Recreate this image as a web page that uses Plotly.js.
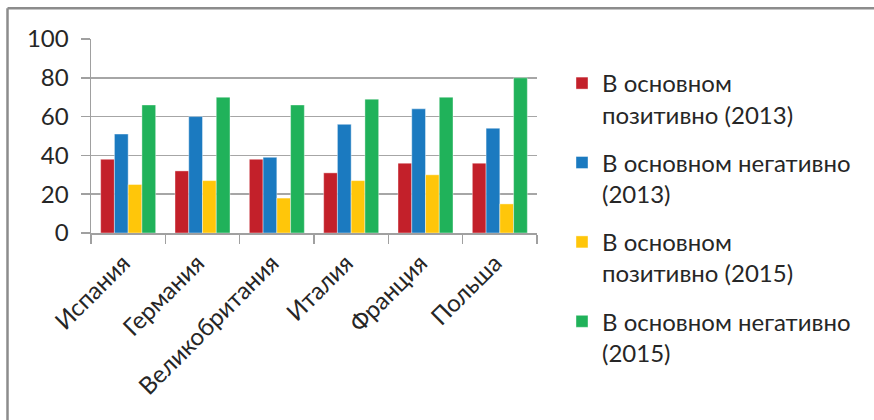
<!DOCTYPE html>
<html>
<head>
<meta charset="utf-8">
<script src="https://cdn.plot.ly/plotly-3.0.1.min.js"></script>
<style>
html,body{margin:0;padding:0;background:#fff;}
#chart{width:874px;height:420px;}
</style>
</head>
<body>
<div id="chart"></div>
<script>
var countries = ["Испания", "Германия", "Великобритания", "Италия", "Франция", "Польша"];
var seriesNames = [
  "В основном<br>позитивно (2013)",
  "В основном негативно<br>(2013)",
  "В основном<br>позитивно (2015)",
  "В основном негативно<br>(2015)"
];
var positive2013 = [38, 32, 38, 31, 36, 36];
var negative2013 = [51, 60, 39, 56, 64, 54];
var positive2015 = [25, 27, 18, 27, 30, 15];
var negative2015 = [66, 70, 66, 69, 70, 80];
var yTicks = [0, 20, 40, 60, 80, 100];

var colors = ["#C3202A", "#1B7AC0", "#FFC60A", "#20B25A"];
var values = [positive2013, negative2013, positive2015, negative2015];

var FONT = "Lato, 'Noto Sans', 'Open Sans', sans-serif";

var traces = values.map(function (v, i) {
  return {
    type: "bar",
    x: countries,
    y: v,
    name: seriesNames[i],
    legendgroup: "g" + i,
    marker: { color: colors[i], line: { color: "rgba(255,255,255,0.5)", width: 0.8 } },
    hoverinfo: "skip"
  };
});

var L = 91, R = 337, T = 39, B = 187;
var W = 874, H = 420;
var pw = W - L - R, ph = H - T - B;
function px2x(p) { return (p - L) / pw; }
function py2y(p) { return (H - B - p) / ph; }

var layout = {
  width: W,
  height: H,
  margin: { l: L, r: R, t: T, b: B, pad: 0 },
  paper_bgcolor: "#ffffff",
  plot_bgcolor: "#ffffff",
  font: { family: FONT, size: 22, color: "#262626" },
  barmode: "group",
  bargap: 0.26,
  bargroupgap: 0,
  showlegend: true,
  legend: {
    x: px2x(562), xanchor: "left",
    y: py2y(61), yanchor: "top",
    font: { family: FONT, size: 24, color: "#262626" },
    tracegroupgap: 14,
    valign: "top",
    maxheight: 400,
    bgcolor: "rgba(0,0,0,0)",
    borderwidth: 0
  },
  xaxis: {
    type: "category",
    showline: true,
    linecolor: "#A0A0A0",
    linewidth: 1.5,
    ticks: "outside",
    tickson: "boundaries",
    ticklen: 9,
    tickwidth: 1.5,
    tickcolor: "#A0A0A0",
    tickangle: -45,
    ticklabelshift: -5,
    ticklabelstandoff: 5,
    showgrid: false,
    tickfont: { family: FONT, size: 24, color: "#262626" },
    fixedrange: true
  },
  yaxis: {
    range: [0, 100],
    tickvals: yTicks,
    ticktext: yTicks.map(String),
    showline: true,
    linecolor: "#A0A0A0",
    linewidth: 1.5,
    ticks: "outside",
    ticklen: 9,
    tickwidth: 1.5,
    tickcolor: "#A0A0A0",
    showgrid: true,
    gridcolor: "#A6A6A6",
    gridwidth: 1.5,
    zeroline: false,
    ticklabelstandoff: 7,
    tickfont: { family: FONT, size: 24, color: "#262626" },
    fixedrange: true
  },
  shapes: [
    {
      type: "line", xref: "paper", yref: "paper",
      x0: px2x(7.5), x1: px2x(890), y0: py2y(8.3), y1: py2y(8.3),
      line: { color: "#8C8C8C", width: 2.5 }
    },
    {
      type: "line", xref: "paper", yref: "paper",
      x0: px2x(7.5), x1: px2x(7.5), y0: py2y(8.3), y1: py2y(440),
      line: { color: "#8C8C8C", width: 2.5 }
    }
  ]
};

Plotly.newPlot("chart", traces, layout, { staticPlot: true, displayModeBar: false });
</script>
</body>
</html>
